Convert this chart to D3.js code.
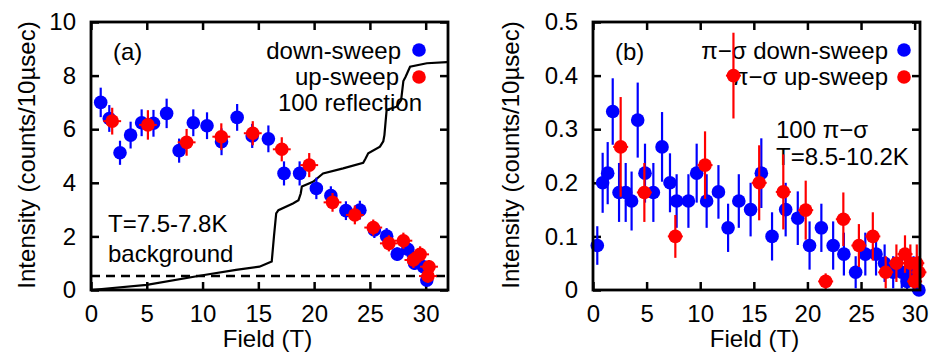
<!DOCTYPE html>
<html><head><meta charset="utf-8">
<script src="https://cdn.jsdelivr.net/npm/d3@7"></script>
<style>body{margin:0;background:#fff}svg{display:block}text{font-family:"Liberation Sans",Arial,sans-serif;fill:#000}</style>
</head><body><svg id="c" width="936" height="356"></svg>
<script>
// ---- Panel (a) data ----
const aDownX = [0.87,1.64,2.6,3.55,4.54,5.6,6.78,7.9,9.17,10.4,11.7,13.1,14.45,15.9,17.3,18.7,20.2,21.5,22.85,24.1,25.4,26.5,27.45,28.4,29.0,29.8,30.1];
const aDownY = [7.0,6.4,5.12,5.78,6.24,6.22,6.59,5.2,6.24,6.13,5.53,6.44,5.75,5.64,4.35,4.35,3.79,3.52,2.96,2.98,2.24,2.01,1.34,1.52,1.0,0.87,0.37];
const aDownE = [0.55,0.5,0.45,0.5,0.5,0.5,0.55,0.45,0.5,0.5,0.5,0.5,0.45,0.5,0.45,0.45,0.4,0.35,0.35,0.35,0.3,0.3,0.25,0.3,0.25,0.25,0.2];
const aUpX = [1.9,5.1,8.57,11.68,14.5,17.1,19.56,21.65,23.65,25.3,26.7,28.0,28.9,29.5,30.3,30.2];
const aUpY = [6.3,6.16,5.51,5.72,5.85,5.25,4.66,3.27,2.8,2.33,1.74,1.84,1.12,1.33,0.87,0.52];
const aUpE = [0.5,0.55,0.5,0.5,0.45,0.45,0.45,0.35,0.35,0.3,0.3,0.3,0.3,0.3,0.25,0.25];
// magnetization curve (scaled)
const magX = [0,5,10,13,15.1,16.2,16.4,16.6,16.8,18.1,18.6,18.8,18.9,19.9,20.8,22.6,24.4,24.6,24.85,25.9,26.2,26.3,26.5,27.4,27.8,28.0,28.2,28.6,30.1,31.9,32];
const magY = [0,0.19,0.55,0.75,0.87,1.06,2.0,2.86,2.98,3.23,3.35,3.6,3.86,4.04,4.35,4.54,4.75,4.9,5.1,5.35,5.55,5.78,6.72,6.84,7.09,7.8,7.96,8.33,8.46,8.5,8.5];
const bgLevel = 0.52;
const aXTicks = [0,5,10,15,20,25,30];
const aYTicks = [0,2,4,6,8,10];

// ---- Panel (b) data ----
const bDownX = [0.4,0.9,1.37,1.84,2.43,3.05,3.6,4.17,4.85,5.63,6.44,7.18,7.8,8.9,9.67,10.6,11.7,12.6,13.6,14.7,15.7,16.7,17.97,19.1,20.2,21.3,22.4,23.4,24.5,25.4,26.4,27.2,28.0,28.8,29.3,29.9,30.4];
const bDownY = [0.083,0.2,0.218,0.333,0.182,0.182,0.166,0.317,0.218,0.182,0.267,0.2,0.166,0.166,0.218,0.166,0.183,0.116,0.166,0.15,0.218,0.1,0.15,0.134,0.083,0.116,0.083,0.067,0.033,0.067,0.067,0.05,0.033,0.033,0.016,0.033,0.0];
const bDownE = [0.036,0.056,0.058,0.062,0.055,0.055,0.055,0.07,0.055,0.055,0.065,0.055,0.05,0.05,0.055,0.05,0.05,0.045,0.05,0.05,0.065,0.045,0.05,0.05,0.045,0.045,0.045,0.04,0.03,0.04,0.04,0.035,0.03,0.03,0.025,0.03,0.02];
const bUpX = [2.58,4.79,7.68,10.45,13.1,15.5,17.75,19.84,21.7,23.35,24.8,26.1,27.3,28.3,29.1,29.6,30.2,30.0,30.4];
const bUpY = [0.267,0.182,0.1,0.233,0.4,0.2,0.183,0.149,0.016,0.132,0.083,0.1,0.033,0.05,0.067,0.05,0.05,0.016,0.033];
const bUpE = [0.093,0.055,0.04,0.063,0.08,0.07,0.07,0.055,0.015,0.05,0.04,0.045,0.03,0.035,0.035,0.035,0.035,0.015,0.03];
const bXTicks = [0,5,10,15,20,25,30];
const bYTicks = [0,0.1,0.2,0.3,0.4,0.5];

const BLUE = "#0000ff", RED = "#ff0000";
const FS = 24;
const svg = d3.select("#c");

function panel(o){
  const x = d3.scaleLinear().domain(o.xd).range([o.x0,o.x1]);
  const y = d3.scaleLinear().domain(o.yd).range([o.y1,o.y0]);
  const g = svg.append("g");
  const tl = 8;
  g.append("g").attr("transform",`translate(0,${o.y1})`)
    .call(d3.axisBottom(x).tickValues(o.xt).tickSize(-tl).tickPadding(15).tickFormat(d3.format("d")))
    .call(s=>{s.select(".domain").remove();s.selectAll("line").attr("stroke-width",2.5);s.selectAll("text").attr("font-size",FS).attr("font-family","Liberation Sans, Arial");});
  g.append("g").attr("transform",`translate(0,${o.y0})`)
    .call(d3.axisTop(x).tickValues(o.xt).tickSize(-tl).tickFormat(""))
    .call(s=>{s.select(".domain").remove();s.selectAll("line").attr("stroke-width",2.5);});
  g.append("g").attr("transform",`translate(${o.x0},0)`)
    .call(d3.axisLeft(y).tickValues(o.yt).tickSize(-tl).tickPadding(15).tickFormat(o.yf))
    .call(s=>{s.select(".domain").remove();s.selectAll("line").attr("stroke-width",2.5);s.selectAll("text").attr("font-size",FS).attr("font-family","Liberation Sans, Arial");});
  g.append("g").attr("transform",`translate(${o.x1},0)`)
    .call(d3.axisRight(y).tickValues(o.yt).tickSize(-tl).tickFormat(""))
    .call(s=>{s.select(".domain").remove();s.selectAll("line").attr("stroke-width",2.5);});
  g.append("text").attr("x",(o.x0+o.x1)/2 - 2).attr("y",347).attr("text-anchor","middle").attr("font-size",FS).text("Field (T)");
  g.append("text").attr("transform",`translate(${o.ytx},155) rotate(-90)`).attr("text-anchor","middle").attr("font-size",FS).text("Intensity (counts/10\u00b5sec)");
  return {x,y,g};
}

function points(p, X, Y, E, col, hx){
  const data = X.map((d,i)=>({x:d,y:Y[i],e:E[i]}));
  const gg = p.g.append("g");
  gg.selectAll("line.v").data(data).join("line")
    .attr("x1",d=>p.x(d.x)).attr("x2",d=>p.x(d.x))
    .attr("y1",d=>p.y(Math.max(d.y-d.e,p.y.domain()[0]))).attr("y2",d=>p.y(d.y+d.e))
    .attr("stroke",col).attr("stroke-width",2.2);
  if(hx){
    gg.selectAll("line.h").data(data).join("line")
      .attr("x1",d=>p.x(d.x-hx)).attr("x2",d=>p.x(d.x+hx))
      .attr("y1",d=>p.y(d.y)).attr("y2",d=>p.y(d.y))
      .attr("stroke",col).attr("stroke-width",2);
  }
  gg.selectAll("circle").data(data).join("circle")
    .attr("cx",d=>p.x(d.x)).attr("cy",d=>p.y(d.y)).attr("r",6.8).attr("fill",col);
}

// ---- Panel (a) ----
const A = panel({xd:[0,32],yd:[0,10],x0:91,x1:448,y0:22,y1:290,xt:aXTicks,yt:aYTicks,yf:d3.format("d"),ytx:35});
A.g.append("path").datum(magX.map((d,i)=>[d,magY[i]]))
  .attr("d",d3.line().x(d=>A.x(d[0])).y(d=>A.y(d[1])))
  .attr("fill","none").attr("stroke","#000").attr("stroke-width",2.2);
A.g.append("line").attr("x1",A.x(0)).attr("x2",A.x(32)).attr("y1",A.y(bgLevel)).attr("y2",A.y(bgLevel))
  .attr("stroke","#000").attr("stroke-width",2.5).attr("stroke-dasharray","9,6");
A.g.append("text").attr("x",113).attr("y",60).attr("font-size",FS).text("(a)");
A.g.append("text").attr("x",401).attr("y",59).attr("text-anchor","end").attr("font-size",FS).text("down-sweep");
A.g.append("text").attr("x",399).attr("y",85).attr("text-anchor","end").attr("font-size",FS).text("up-sweep");
A.g.append("text").attr("x",422).attr("y",111).attr("text-anchor","end").attr("font-size",FS).text("100 reflection");
A.g.append("text").attr("x",108).attr("y",232).attr("font-size",FS).text("T=7.5-7.8K");
A.g.append("text").attr("x",108).attr("y",262).attr("font-size",FS).text("background");
A.g.append("circle").attr("cx",419).attr("cy",50).attr("r",6.8).attr("fill",BLUE);
A.g.append("circle").attr("cx",419).attr("cy",77).attr("r",6.8).attr("fill",RED);
points(A, aDownX, aDownY, aDownE, BLUE, 0);
points(A, aUpX, aUpY, aUpE, RED, 0.8);

// ---- Panel (b) ----
const B = panel({xd:[0,30.5],yd:[0,0.5],x0:593,x1:920,y0:22,y1:290,xt:bXTicks,yt:bYTicks,yf:d => d===0 ? "0" : d3.format(".1f")(d),ytx:519});
B.g.append("text").attr("x",615).attr("y",60).attr("font-size",FS).text("(b)");
B.g.append("text").attr("x",888).attr("y",59).attr("text-anchor","end").attr("font-size",FS).text("\u03c0\u2212\u03c3 down-sweep");
B.g.append("text").attr("x",888).attr("y",85).attr("text-anchor","end").attr("font-size",FS).text("\u03c0\u2212\u03c3 up-sweep");
B.g.append("text").attr("x",776).attr("y",138).attr("font-size",FS).text("100 \u03c0\u2212\u03c3");
B.g.append("text").attr("x",776).attr("y",165).attr("font-size",FS).text("T=8.5-10.2K");
B.g.append("circle").attr("cx",904).attr("cy",50).attr("r",6.8).attr("fill",BLUE);
B.g.append("circle").attr("cx",904).attr("cy",77).attr("r",6.8).attr("fill",RED);
points(B, bDownX, bDownY, bDownE, BLUE, 0);
points(B, bUpX, bUpY, bUpE, RED, 0.7);

// frames on top
[[91,22,448,290],[593,22,920,290]].forEach(([a,b,c,d])=>{
  svg.append("rect").attr("x",a).attr("y",b).attr("width",c-a).attr("height",d-b)
    .attr("fill","none").attr("stroke","#000").attr("stroke-width",2.8);
});
</script></body></html>
